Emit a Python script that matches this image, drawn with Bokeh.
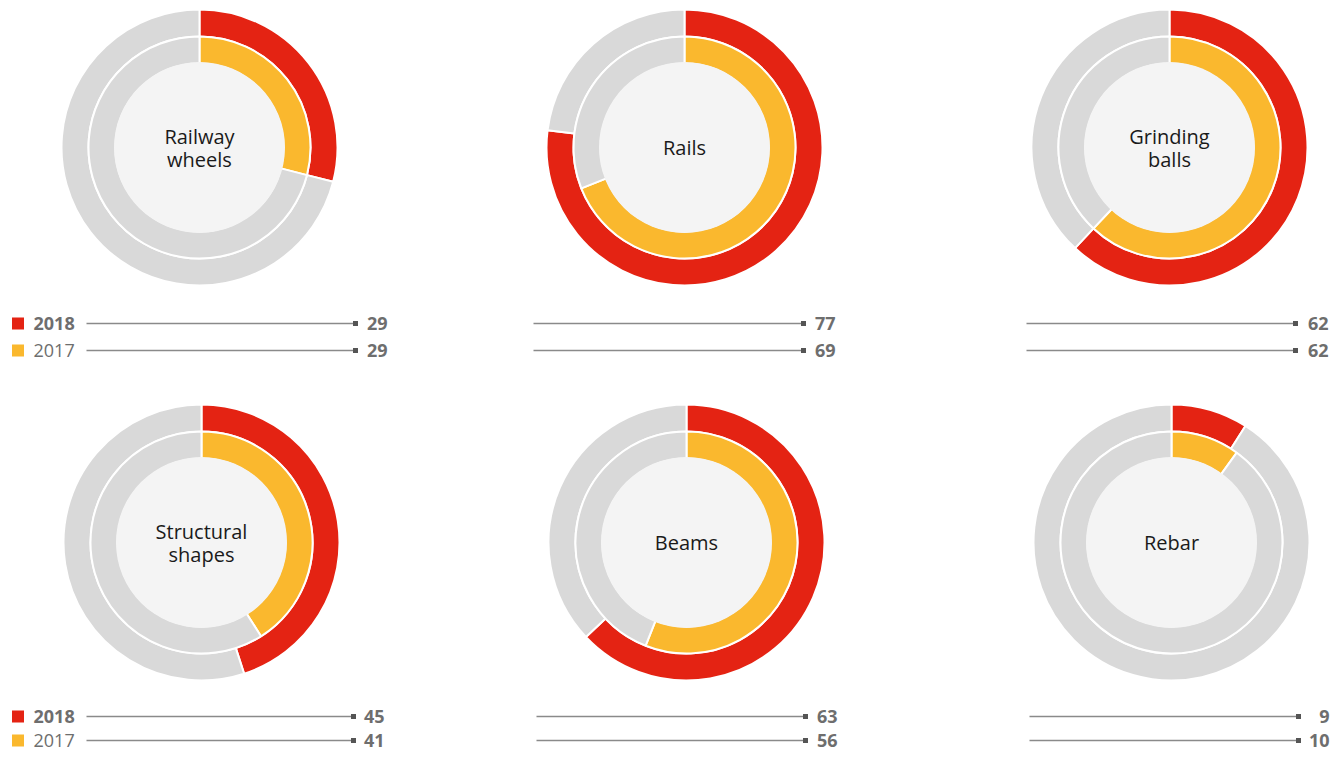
import math
from bokeh.plotting import figure
from bokeh.models import Range1d
from bokeh.core.properties import value
from bokeh.embed import file_html
from bokeh.resources import INLINE

# ---- data ----
categories = ["Railway\nwheels", "Rails", "Grinding\nballs", "Structural\nshapes", "Beams", "Rebar"]
values_2018 = [29, 77, 62, 45, 63, 9]
values_2017 = [29, 69, 62, 41, 56, 10]
years = ["2018", "2017"]

# ---- layout (screen pixel coordinates of the reference) ----
W, H = 1332, 752
centers_x = [199, 684, 1169, 201, 686, 1171]
centers_y = [147, 147, 147, 542, 542, 542]
line_x0 = [86, 533, 1026, 86, 536, 1029]
line_x1 = [355, 803, 1295, 353, 805, 1298]
value_x = [387, 835, 1328, 384, 837, 1329]
row_y_top = [323, 350]
row_y_bottom = [716, 740]

RED = "#e42313"
YELLOW = "#fab82e"
GRAY = "#d9d9d9"
CENTER = "#f4f4f4"
TXT = "#6e6e6e"

R_OUT = (111, 138)
R_IN = (84, 111)
R_CENTER = 85.5
LINE_GAP = 23


def Y(y):
    return 760 - y


p = figure(width=W, height=H, x_range=Range1d(0, W), y_range=Range1d(760 - H, 760),
           output_backend="svg", toolbar_location=None, min_border=0,
           x_axis_location=None, y_axis_location=None)
p.grid.visible = False
p.outline_line_color = None
p.background_fill_color = "white"
p.border_fill_color = "white"

top = math.pi / 2
for i, cat in enumerate(categories):
    cx, cy = centers_x[i], Y(centers_y[i])
    for vals, col, (ri, ro) in ((values_2018, RED, R_OUT), (values_2017, YELLOW, R_IN)):
        end = top - 2 * math.pi * vals[i] / 100.0
        p.annular_wedge(x=[cx], y=[cy], inner_radius=ri, outer_radius=ro,
                        start_angle=top, end_angle=end, direction="clock",
                        fill_color=col, line_color="white", line_width=2)
        p.annular_wedge(x=[cx], y=[cy], inner_radius=ri, outer_radius=ro,
                        start_angle=end, end_angle=top, direction="clock",
                        fill_color=GRAY, line_color="white", line_width=2)
    p.circle(x=[cx], y=[cy], radius=R_CENTER, fill_color=CENTER, line_color=None)
    lines = cat.split("\n")
    n = len(lines)
    for k, ln in enumerate(lines):
        ly = cy + ((n - 1) / 2.0 - k) * LINE_GAP
        p.text(x=[cx], y=[ly], text=[ln], text_align="center", text_baseline="middle",
               text_font=value("Open Sans"), text_font_size="20px", text_color="#1a1a1a")

    rows = row_y_top if i < 3 else row_y_bottom
    for j, vals in enumerate((values_2018, values_2017)):
        ry = Y(rows[j])
        p.segment(x0=[line_x0[i]], y0=[ry], x1=[line_x1[i]], y1=[ry],
                  line_color="#8a8a8a", line_width=1.5)
        p.scatter(x=[line_x1[i]], y=[ry], marker="square", size=5,
                  fill_color="#555555", line_color=None)
        p.text(x=[value_x[i]], y=[ry], text=[str(vals[i])], text_align="right",
               text_baseline="middle", text_font=value("Open Sans"),
               text_font_size="18px", text_font_style="bold", text_color=TXT)
        if i % 3 == 0:
            p.scatter(x=[17.5], y=[ry], marker="square", size=12,
                      fill_color=RED if j == 0 else YELLOW, line_color=None)
            p.text(x=[33], y=[ry], text=[years[j]], text_align="left",
                   text_baseline="middle", text_font=value("Open Sans"),
                   text_font_size="18px",
                   text_font_style="bold" if j == 0 else "normal", text_color=TXT)

open("out.html", "w").write(file_html(p, INLINE))
